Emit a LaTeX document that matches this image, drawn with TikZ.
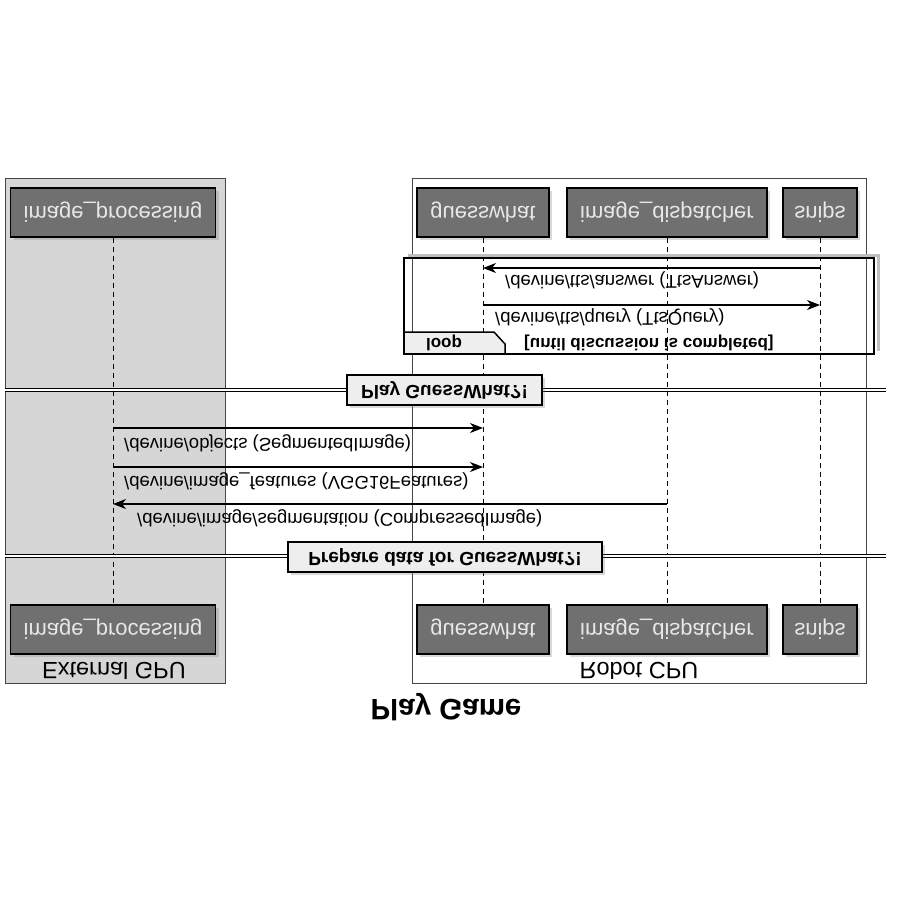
\documentclass[tikz,border=0pt]{standalone}
\usepackage{fontspec}
\setmainfont{Liberation Sans}
\usetikzlibrary{arrows.meta,shadows}

\definecolor{partfill}{RGB}{112,112,112}
\definecolor{parttext}{RGB}{232,232,232}
\definecolor{extfill}{RGB}{214,214,214}
\definecolor{sepfill}{RGB}{238,238,238}
\definecolor{boxline}{RGB}{70,70,70}

\tikzset{
  participant/.style={draw=black, line width=1.2pt, fill=partfill, text=parttext,
    minimum height=49pt, inner sep=0pt, font=\fontsize{22}{26}\selectfont,
    drop shadow={opacity=0.3, shadow xshift=3pt, shadow yshift=-3pt}},
  lifeline/.style={dash pattern=on 5pt off 4pt, line width=0.8pt},
  msg/.style={line width=1.1pt, -{Stealth[length=13pt,width=10pt,inset=4pt]}},
  msglabel/.style={anchor=west, inner sep=0pt, font=\fontsize{18.5}{22}\selectfont},
  separator/.style={draw=black, line width=2pt, fill=sepfill, inner sep=0pt,
    minimum height=30pt, font=\bfseries\fontsize{19}{22}\selectfont,
    drop shadow={opacity=0.3, shadow xshift=3pt, shadow yshift=-3pt}},
  sepline/.style={double, double distance=2.5pt, line width=1.1pt},
  grouplabel/.style={inner sep=0pt, font=\fontsize{23.5}{28}\selectfont},
  looplabel/.style={inner sep=0pt, font=\bfseries\fontsize{17}{20}\selectfont},
}

\begin{document}
\begin{tikzpicture}[x=1pt,y=1pt,yscale=-1,every node/.append style={transform shape}]
\useasboundingbox (0,0) rectangle (900,900);

% boxes
\draw [boxline, fill=extfill, line width=1pt] (5,178) rectangle (225,683);
\draw [boxline, fill=white, line width=1pt] (412,178) rectangle (866,683);
\node [grouplabel] (extLabel) at (114,671) {External GPU};
\node [grouplabel] (robLabel) at (639,671) {Robot CPU};

% participants
\node [participant, minimum width=205pt] (ipT) at (113,212.5) {image\_processing};
\node [participant, minimum width=132pt] (gwT) at (483,212.5) {guesswhat};
\node [participant, minimum width=200pt] (idT) at (667,212.5) {image\_dispatcher};
\node [participant, minimum width=74pt] (snT) at (820,212.5) {snips};
\node [participant, minimum width=205pt] (ipB) at (113,629.5) {image\_processing};
\node [participant, minimum width=132pt] (gwB) at (483,629.5) {guesswhat};
\node [participant, minimum width=200pt] (idB) at (667,629.5) {image\_dispatcher};
\node [participant, minimum width=74pt] (snB) at (820,629.5) {snips};

\draw [lifeline] (ipT) -- (ipB);
\draw [lifeline] (gwT) -- (gwB);
\draw [lifeline] (idT) -- (idB);
\draw [lifeline] (snT) -- (snB);

% loop
\draw [black!25, line width=3pt] (408,255) -- (878,255) -- (878,351);
\draw [line width=2.5pt] (404,258) rectangle (874,354);
\draw [line width=1.5pt, fill=sepfill] (404,354) -- (404,332) -- (494,332) -- (505,344) -- (505,354);
\draw [line width=2.5pt] (404,354) -- (505,354);
\node [looplabel] (loopTag) at (444,343) {loop};
\node [looplabel, anchor=west] (loopGuard) at (524,343) {[until discussion is completed]};

\coordinate (yAns) at (0,268);
\coordinate (yQry) at (0,305);
\draw [msg] (snT |- yAns) -- (gwT |- yAns);
\node [msglabel] (lAns) at (505,280) {/devine/tts/answer (TtsAnswer)};
\draw [msg] (gwT |- yQry) -- (snT |- yQry);
\node [msglabel] (lQry) at (495,317) {/devine/tts/query (TtsQuery)};

% separators
\draw [sepline] (5,390) -- (886,390);
\node [separator, minimum width=195pt] (sepPlay) at (444.5,390) {Play GuessWhat?!};

\coordinate (yObj) at (0,428);
\coordinate (yFeat) at (0,467);
\coordinate (ySeg) at (0,504);
\draw [msg] (ipT |- yObj) -- (gwT |- yObj);
\node [msglabel] (lObj) at (124,443) {/devine/objects (SegmentedImage)};
\draw [msg] (ipT |- yFeat) -- (gwT |- yFeat);
\node [msglabel] (lFeat) at (124,481) {/devine/image\_features (VGG16Features)};
\draw [msg] (idT |- ySeg) -- (ipT |- ySeg);
\node [msglabel] (lSeg) at (137,518) {/devine/image/segmentation (CompressedImage)};

\draw [sepline] (5,556) -- (886,556);
\node [separator, minimum width=314pt] (sepPrep) at (445,557) {Prepare data for GuessWhat?!};

% title
\node [inner sep=0pt, font=\bfseries\fontsize{29.5}{34}\selectfont] (title) at (446,707) {Play Game};

\end{tikzpicture}
\end{document}
